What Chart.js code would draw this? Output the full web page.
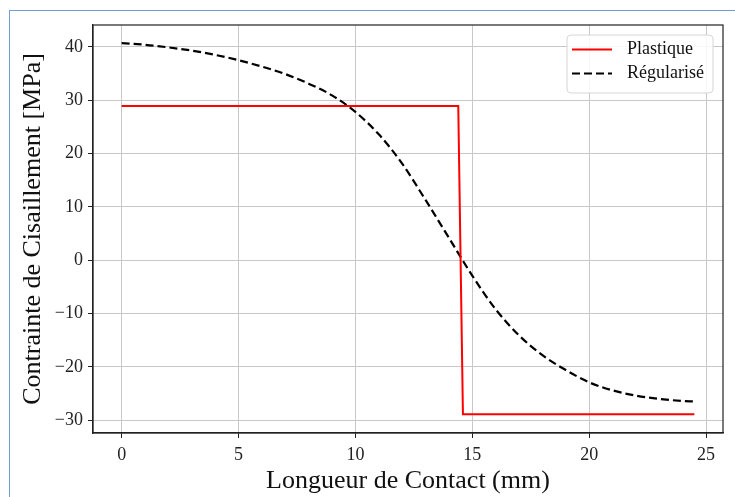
<!DOCTYPE html>
<html>
<head>
<meta charset="utf-8">
<script src="https://cdn.jsdelivr.net/npm/chart.js@4.4.1/dist/chart.umd.min.js"></script>
<style>
    html, body { margin: 0; padding: 0; background: #fff; }
    #wrap { position: relative; width: 735px; height: 497px; overflow: hidden; }
    #frame {
        position: absolute; left: 9px; top: 10px; width: 760px; height: 520px;
        border-left: 1px solid #6e9fd6; border-top: 1px solid #6e9fd6;
    }
    #chart { position: absolute; left: 0; top: 0; }
</style>
</head>
<body>
<div id="wrap">
    <div id="frame"></div>
    <canvas id="chart" width="735" height="497"></canvas>
</div>
<script>
// ================= DATA =================
const plastX = [0, 14.4, 14.6, 24.5];
const plastY = [28.9, 28.9, -28.9, -28.9];

const regX = [0, 1, 2, 3, 4, 5, 6, 7, 8, 9, 10, 11, 12, 13, 14, 15, 16, 17, 18, 19, 20, 21, 22, 23, 24, 24.5];
const regY = [40.7, 40.4, 39.9, 39.3, 38.5, 37.5, 36.3, 34.9, 33.1, 30.9, 27.8, 23.6, 18.1, 11.3, 4.2, -2.9, -9.2, -14.1, -17.8, -20.6, -22.9, -24.4, -25.4, -26.0, -26.4, -26.5];

const xTicks = [0, 5, 10, 15, 20, 25];
const yTicks = [-30, -20, -10, 0, 10, 20, 30, 40];

const labels = ["Plastique", "Régularisé"];

// ================= HELPERS =================
const serif = "'Liberation Serif', 'DejaVu Serif', serif";
const toPts = (xs, ys) => xs.map((x, i) => ({ x: x, y: ys[i] }));
const minus = v => String(v).replace("-", "\u2212");

// full box round the axes (matplotlib spines)
const axesBox = {
    id: "axesBox",
    afterDraw(chart) {
        const a = chart.chartArea;
        const ctx = chart.ctx;
        ctx.save();
        ctx.strokeStyle = "#222";
        ctx.lineWidth = 1.2;
        ctx.strokeRect(a.left, a.top, a.right - a.left, a.bottom - a.top);
        ctx.restore();
    }
};

// legend drawn like matplotlib (inside, upper right, rounded frame)
const mplLegend = {
    id: "mplLegend",
    afterDraw(chart) {
        const ctx = chart.ctx;
        const x0 = 567, y0 = 35, w = 146, h = 58, r = 4;
        ctx.save();
        ctx.beginPath();
        ctx.roundRect(x0, y0, w, h, r);
        ctx.fillStyle = "rgba(255,255,255,0.85)";
        ctx.fill();
        ctx.strokeStyle = "#d6d6d6";
        ctx.lineWidth = 1;
        ctx.stroke();

        chart.data.datasets.forEach((ds, i) => {
            const ly = 49.5 + i * 24;
            ctx.beginPath();
            ctx.setLineDash(ds.borderDash || []);
            ctx.strokeStyle = ds.borderColor;
            ctx.lineWidth = ds.borderWidth;
            ctx.moveTo(572, ly);
            ctx.lineTo(612, ly);
            ctx.stroke();
            ctx.setLineDash([]);
            ctx.fillStyle = "#111";
            ctx.font = "18px " + serif;
            ctx.textBaseline = "middle";
            ctx.fillText(ds.label, 627, ly);
        });
        ctx.restore();
    }
};

// ================= CHART =================
new Chart(document.getElementById("chart"), {
    type: "line",
    data: {
        datasets: [
            {
                label: labels[0],
                data: toPts(plastX, plastY),
                borderColor: "#ff0000",
                borderWidth: 2,
                pointRadius: 0,
                tension: 0
            },
            {
                label: labels[1],
                data: toPts(regX, regY),
                borderColor: "#000000",
                borderWidth: 2.2,
                borderDash: [8, 4],
                pointRadius: 0,
                cubicInterpolationMode: "monotone"
            }
        ]
    },
    options: {
        responsive: false,
        animation: false,
        layout: { padding: { left: 0, top: 25, right: 12, bottom: 0 } },
        plugins: {
            legend: { display: false },
            tooltip: { enabled: false }
        },
        scales: {
            x: {
                type: "linear",
                min: -1.225,
                max: 25.725,
                afterBuildTicks: s => { s.ticks = xTicks.map(v => ({ value: v })); },
                afterFit: s => { s.height = 64; },
                grid: { color: "#c8c8c8", lineWidth: 1, tickColor: "#222", tickLength: 5 },
                border: { color: "#222", width: 1.2 },
                ticks: {
                    color: "#222",
                    font: { family: serif, size: 18 },
                    padding: 6,
                    maxRotation: 0,
                    callback: v => minus(v)
                },
                title: {
                    display: true,
                    text: "Longueur de Contact (mm)",
                    color: "#111",
                    font: { family: serif, size: 26 },
                    padding: { top: 0, bottom: 0 }
                }
            },
            y: {
                min: -32.4,
                max: 44.1,
                afterBuildTicks: s => { s.ticks = yTicks.map(v => ({ value: v })); },
                afterFit: s => { s.width = 93; },
                grid: { color: "#c8c8c8", lineWidth: 1, tickColor: "#222", tickLength: 5 },
                border: { color: "#222", width: 1.2 },
                ticks: {
                    color: "#222",
                    font: { family: serif, size: 18 },
                    padding: 5,
                    callback: v => minus(v)
                },
                title: {
                    display: true,
                    text: "Contrainte de Cisaillement [MPa]",
                    color: "#111",
                    font: { family: serif, size: 26 },
                    padding: { top: 18, bottom: 0 }
                }
            }
        }
    },
    plugins: [axesBox, mplLegend]
});
</script>
</body>
</html>
